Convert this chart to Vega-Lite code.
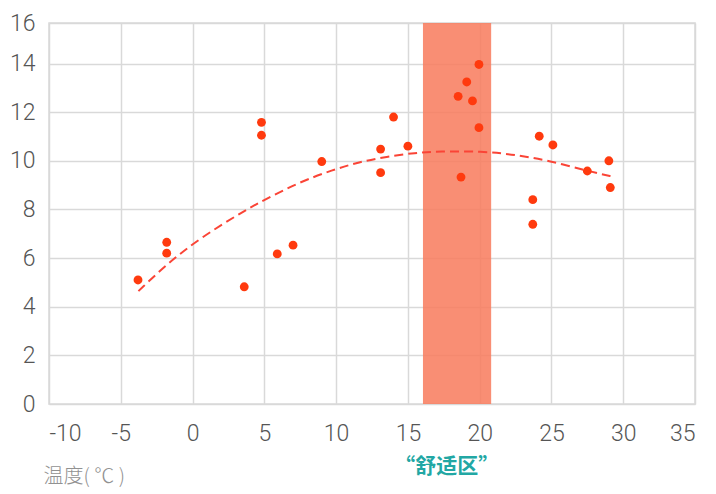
{
  "$schema": "https://vega.github.io/schema/vega-lite/v6.json",
  "autosize": "none",
  "width": 646,
  "height": 381,
  "padding": {"left": 49, "top": 23, "right": 21, "bottom": 90},
  "background": "white",
  "config": {
    "view": {"stroke": "#d9d9d9", "strokeWidth": 1.5},
    "font": "Roboto",
    "axis": {
      "gridColor": "#d9d9d9",
      "gridWidth": 1.5,
      "domain": false,
      "ticks": false,
      "labelFont": "Roboto",
      "labelFontWeight": 300,
      "labelFontSize": 23,
      "labelColor": "#555555",
      "labelExpr": "'' + datum.value"
    }
  },
  "datasets": {
    "pts": [
      {"t": -3.8, "v": 5.1},
      {"t": -1.8, "v": 6.65},
      {"t": -1.8, "v": 6.2},
      {"t": 3.6, "v": 4.82},
      {"t": 4.8, "v": 11.58},
      {"t": 4.8, "v": 11.05},
      {"t": 5.9, "v": 6.17},
      {"t": 7.0, "v": 6.53},
      {"t": 9.0, "v": 9.97},
      {"t": 13.1, "v": 10.48},
      {"t": 13.1, "v": 9.51},
      {"t": 14.0, "v": 11.8},
      {"t": 15.0, "v": 10.6},
      {"t": 18.5, "v": 12.65},
      {"t": 19.1, "v": 13.24},
      {"t": 19.5, "v": 12.46},
      {"t": 19.95, "v": 13.96},
      {"t": 19.95, "v": 11.36},
      {"t": 18.7, "v": 9.33},
      {"t": 23.7, "v": 8.4},
      {"t": 23.7, "v": 7.39},
      {"t": 24.15, "v": 11.01},
      {"t": 25.1, "v": 10.65},
      {"t": 27.5, "v": 9.58},
      {"t": 29.0, "v": 10.0},
      {"t": 29.1, "v": 8.9}
    ],
    "trend": [
      {"t": -3.77, "v": 4.64},
      {"t": -1.76, "v": 5.77},
      {"t": 0.56, "v": 6.84},
      {"t": 3.68, "v": 7.97},
      {"t": 4.95, "v": 8.38},
      {"t": 7.47, "v": 9.13},
      {"t": 9.75, "v": 9.62},
      {"t": 11.6, "v": 9.95},
      {"t": 13.5, "v": 10.17},
      {"t": 15.53, "v": 10.33},
      {"t": 17.15, "v": 10.39},
      {"t": 20.16, "v": 10.39},
      {"t": 22.5, "v": 10.25},
      {"t": 24.8, "v": 10.01},
      {"t": 27.4, "v": 9.6},
      {"t": 29.4, "v": 9.33}
    ],
    "zone": [{"x1": 16.05, "x2": 20.8, "y1": 0, "y2": 16, "label": "“舒适区”", "mid": 17.7}]
  },
  "layer": [
    {
      "data": {"name": "zone"},
      "mark": {"type": "rect", "fill": "#f87a5c", "opacity": 0.85},
      "encoding": {
        "x": {"field": "x1", "type": "quantitative", "scale": {"domain": [-10, 35]},
          "axis": {"values": [-10, -5, 0, 5, 10, 15, 20, 25, 30, 35], "labelPadding": 18,
            "title": "温度( ℃ )", "titleFont": "Noto Sans CJK SC", "titleFontWeight": 300, "titleFontSize": 20,
            "titleColor": "#919191", "titleAnchor": "start", "titleAlign": "left", "titleX": -6, "titleY": 62}},
        "x2": {"field": "x2"},
        "y": {"field": "y1", "type": "quantitative", "scale": {"domain": [0, 14, 16], "range": [381, 40.5, 0]},
          "axis": {"values": [0, 2, 4, 6, 8, 10, 12, 14, 16], "labelPadding": 14, "title": null}},
        "y2": {"field": "y2"}
      }
    },
    {
      "data": {"name": "zone"},
      "mark": {"type": "text", "font": "Noto Sans CJK SC", "fontWeight": "bold", "fontSize": 21, "color": "#22a7a4", "dy": 63, "baseline": "middle"},
      "encoding": {
        "x": {"field": "mid", "type": "quantitative"},
        "y": {"field": "y1", "type": "quantitative"},
        "text": {"field": "label"}
      }
    },
    {
      "data": {"name": "trend"},
      "mark": {"type": "line", "color": "#fa4436", "strokeWidth": 2, "strokeDash": [9, 5], "interpolate": "basis"},
      "encoding": {
        "x": {"field": "t", "type": "quantitative"},
        "y": {"field": "v", "type": "quantitative"}
      }
    },
    {
      "data": {"name": "pts"},
      "mark": {"type": "circle", "color": "#ff3a0e", "opacity": 1, "size": 78},
      "encoding": {
        "x": {"field": "t", "type": "quantitative"},
        "y": {"field": "v", "type": "quantitative"}
      }
    }
  ]
}
